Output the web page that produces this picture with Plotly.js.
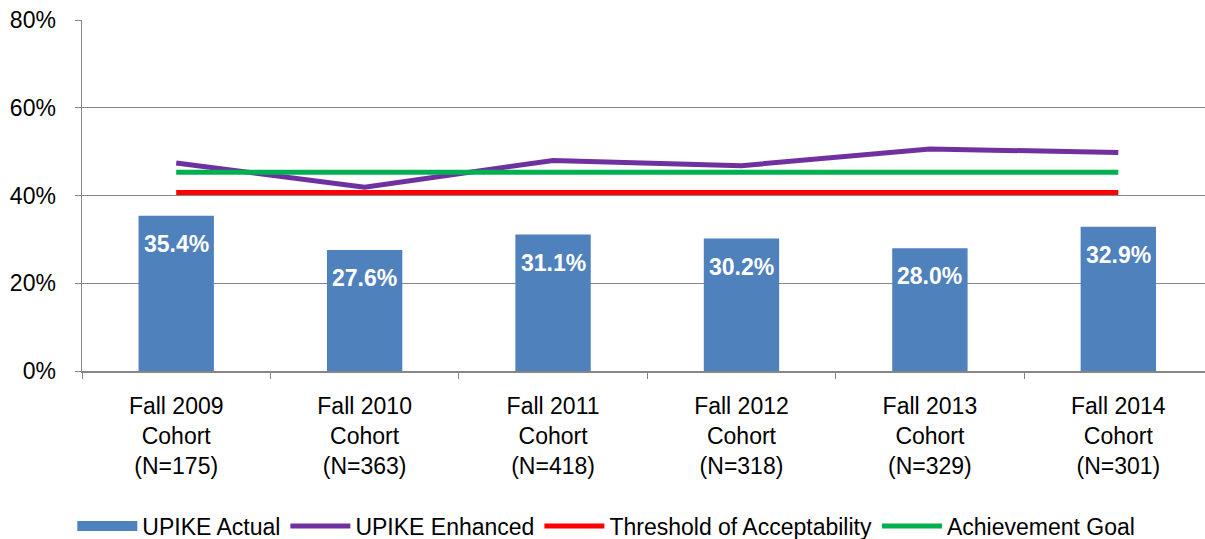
<!DOCTYPE html>
<html><head><meta charset="utf-8">
<script src="https://cdn.plot.ly/plotly-3.0.1.min.js"></script>
<style>body{margin:0;background:#fff}#c{width:1205px;height:539px}</style>
</head><body><div id="c"></div>
<script>
const categories = ["Fall 2009<br>Cohort<br>(N=175)","Fall 2010<br>Cohort<br>(N=363)","Fall 2011<br>Cohort<br>(N=418)","Fall 2012<br>Cohort<br>(N=318)","Fall 2013<br>Cohort<br>(N=329)","Fall 2014<br>Cohort<br>(N=301)"];
const actual = [35.4, 27.6, 31.1, 30.2, 28.0, 32.9];
const enhanced = [47.4, 41.9, 48.0, 46.8, 50.6, 49.8];
const threshold = [40.7, 40.7, 40.7, 40.7, 40.7, 40.7];
const goal = [45.3, 45.3, 45.3, 45.3, 45.3, 45.3];

const font = "Liberation Sans, Arial, sans-serif";
const traces = [
  {type:'bar', x:categories, y:actual, name:'UPIKE Actual', marker:{color:'#4F81BD'}, width:0.4, showlegend:false},
  {type:'scatter', mode:'lines', x:[null], y:[null], name:'UPIKE Actual', line:{color:'#4F81BD', width:16}},
  {type:'scatter', mode:'lines', x:categories, y:enhanced, name:'UPIKE Enhanced', line:{color:'#7030A0', width:5}},
  {type:'scatter', mode:'lines', x:categories, y:threshold, name:'Threshold of Acceptability', line:{color:'#FF0000', width:5}},
  {type:'scatter', mode:'lines', x:categories, y:goal, name:'Achievement Goal', line:{color:'#00B050', width:5}}
];
const annotations = actual.map((v,i)=>({x:categories[i], y:v, xref:'x', yref:'y', text:'<b>'+v.toFixed(1)+'%</b>', showarrow:false, yshift:-28, font:{family:font, size:23, color:'#fff'}}));
const layout = {
  width:1205, height:539,
  margin:{l:82, r:0, t:20, b:168},
  paper_bgcolor:'#fff', plot_bgcolor:'#fff',
  font:{family:font, size:20, color:'#000'},
  showlegend:true,
  legend:{orientation:'h', xref:'container', x:0.06, xanchor:'left', yref:'container', y:0.024, yanchor:'middle', font:{family:font, size:23}, traceorder:'normal', itemwidth:60},
  xaxis:{type:'category', range:[-0.5, 5.46], showline:true, linecolor:'#868686', linewidth:1.5, ticks:'outside', tickson:'boundaries', ticklen:6, tickcolor:'#868686', ticklabelstandoff:14, tickfont:{family:font, size:23}, showgrid:false, fixedrange:true},
  yaxis:{range:[0,80], dtick:20, ticksuffix:'%', showline:true, linecolor:'#868686', linewidth:1.5, ticks:'outside', ticklen:6, tickcolor:'#868686', ticklabelstandoff:14, showgrid:true, gridcolor:'#868686', gridwidth:1, zeroline:false, tickfont:{family:font, size:23}},
  annotations:annotations,
  bargap:0.6
};
Plotly.newPlot('c', traces, layout, {displayModeBar:false, staticPlot:true});
</script></body></html>
